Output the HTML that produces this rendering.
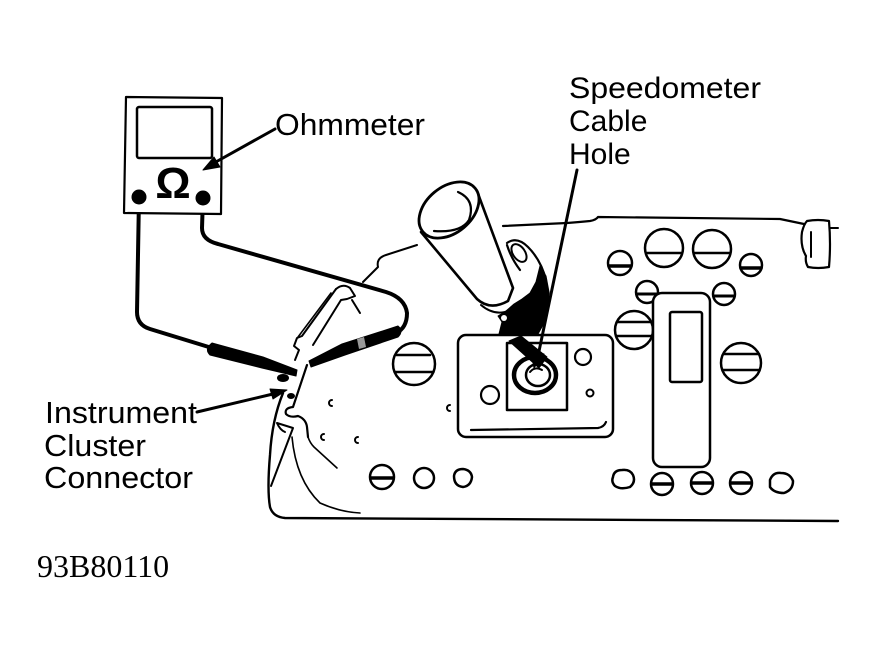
<!DOCTYPE html>
<html><head><meta charset="utf-8"><style>
html,body{margin:0;padding:0;background:#fff;}
svg{display:block;}
text{font-family:"Liberation Sans",Arial,sans-serif;fill:#000;}
</style></head><body>
<svg width="877" height="651" viewBox="0 0 877 651" xmlns="http://www.w3.org/2000/svg">
<rect width="877" height="651" fill="#fff"/>
<g fill="none" stroke="#000" stroke-linecap="round" stroke-linejoin="round">
<!-- panel outline -->
<path d="M363,282 L378,267 Q376,258 386,255 L417,245" stroke-width="2"/>
<path d="M503,226 L567,223 Q580,222 590,221 Q596,220 598,217 L780,219 L804,224" stroke-width="2.2"/>
<path d="M830,228 L838,228" stroke-width="2"/>
<path d="M807,221 Q818,219 829,221 Q831,244 829,267 Q818,269 808,267 Q805,262 806,256 Q800,246 802,232 Q804,224 807,221 Z" stroke-width="2.2" fill="#fff"/>
<path d="M811,232 L811,257" stroke-width="2"/>
<path d="M283,393 Q272,420 270,455 Q267,490 270,507 Q273,517 285,518 L838,521" stroke-width="2.4"/>
<path d="M292,437 Q296,480 320,503 Q340,512 360,513" stroke-width="1.6"/>
<path d="M277,423 L293,428 L271,486 M277,423 Q280,430 285,432" stroke-width="2"/>
<path d="M308,437 Q310,443 314,447 L337,468" stroke-width="1.6"/>
<!-- small c marks -->
<path d="M332,400 A3,3 0 1 0 332,406" stroke-width="2"/>
<path d="M324,434 A3,3 0 1 0 324,440" stroke-width="2"/>
<path d="M358,437 A3,3 0 1 0 358,443" stroke-width="2"/>
<path d="M450,405 A3,3 0 1 0 450,411" stroke-width="2"/>
<!-- knobs -->
<g stroke-width="2.5" fill="#fff">
<circle cx="664" cy="248" r="19"/><path d="M646,253 L682,253"/>
<circle cx="712" cy="249" r="19"/><path d="M694,253 L730,253"/>
<circle cx="620" cy="263" r="12"/><path d="M609,266 L631,266" stroke-width="3.5"/>
<circle cx="751" cy="265" r="11"/><path d="M741,268 L761,268" stroke-width="3.5"/>
<circle cx="647" cy="292" r="11"/><path d="M637,294 L657,294" stroke-width="3"/>
<circle cx="724" cy="294" r="11"/><path d="M714,296 L734,296" stroke-width="3"/>
<circle cx="634" cy="330" r="19"/><path d="M617,322 L651,322 M616,336 L652,336"/>
<circle cx="741" cy="363" r="20"/><path d="M724,354 L759,354 M723,370 L759,370"/>
<circle cx="414" cy="364" r="21"/><path d="M396,355 L430,355 M395,372 L433,372"/>
<circle cx="382" cy="477" r="12"/><path d="M371,478 L393,478" stroke-width="3.5"/>
<circle cx="424" cy="478" r="10"/>
<path d="M454,476 Q455,469 463,469 Q471,470 472,477 Q471,486 463,487 Q454,486 454,476 Z"/>
<path d="M613,477 Q614,470 622,470 Q630,469 633,475 Q636,482 630,487 Q621,490 615,486 Q611,482 613,477 Z"/>
<circle cx="662" cy="484" r="11"/><path d="M652,484 L672,484" stroke-width="3.5"/>
<circle cx="702" cy="483" r="11"/><path d="M692,483 L712,483" stroke-width="3.5"/>
<circle cx="741" cy="483" r="11"/><path d="M731,483 L751,483" stroke-width="3.5"/>
<path d="M770,480 Q773,472 781,473 Q790,473 793,481 Q793,490 784,493 Q774,493 770,487 Z"/>
</g>
<!-- tall rect -->
<rect x="653" y="293" width="57" height="174" rx="9" stroke-width="2.5" fill="#fff"/>
<rect x="670" y="312" width="32" height="70" rx="2" stroke-width="2.5"/>
<!-- plate -->
<rect x="458" y="335" width="155" height="102" rx="8" stroke-width="2.5" fill="#fff"/>
<path d="M471,430 L598,428 Q604,427 606,422" stroke-width="2.2"/>
<rect x="507" y="343" width="60" height="67" stroke-width="2.5" fill="#fff"/>
<circle cx="490" cy="395" r="9" stroke-width="2.2"/>
<circle cx="583" cy="357" r="8" stroke-width="2.2"/>
<circle cx="590" cy="393" r="3.5" stroke-width="2"/>
<!-- hole -->
<ellipse cx="535" cy="375" rx="21" ry="18" stroke-width="4.5"/>
<ellipse cx="538" cy="375" rx="12" ry="11" stroke-width="2.5"/>
<path d="M530,372 Q535,366 542,370" stroke-width="2"/>
<!-- screwdriver -->
<path d="M507,243 Q517,236 528,247 Q541,260 546,280 M507,245 Q511,258 520,270" stroke-width="2.2"/>
<ellipse cx="519" cy="253" rx="6" ry="10" transform="rotate(-35 519 253)" stroke-width="2"/>
<path d="M421,232 L477,299 Q490,311 508,301 L513,288 L477,191 Z" stroke-width="2.6" fill="#fff"/>
<ellipse cx="449" cy="210" rx="34" ry="23" transform="rotate(-40 449 210)" stroke-width="2.8" fill="#fff"/>
<path d="M458,192 Q476,200 469,220 Q461,233 434,231" stroke-width="2.2"/>
<path d="M481,305 Q495,317 511,310" stroke-width="2"/>
<path d="M499,334 L502,322 L498,316 L506,311 L514,304 L522,299 L530,293 L536,282 L540,266 L546,276 L549,292 L548,310 L543,325 L538,334 Z" fill="#000" stroke="#000" stroke-width="1"/>
<circle cx="504" cy="318" r="3" fill="#fff" stroke="none"/>
<path d="M509,341 L521,336 L547,357 L539,368 Z" fill="#000" stroke="#000" stroke-width="1"/>
<!-- cable arrow -->
<path d="M577,170 L538,356" stroke-width="3"/>
<path d="M534,368 L531,351 L544,354 Z" fill="#000" stroke-width="1"/>
<!-- connector -->
<path d="M336,289 L302,336 L297,338 L294,346 L299,350 L295,360" stroke-width="2"/>
<path d="M336,289 Q343,283 350,288 L355,296 L347,299 L341,300 L313,345" stroke-width="2"/>
<path d="M352,300 L360,313" stroke-width="2"/>
<path d="M331,293 L298,337" stroke-width="1.6"/>
<path d="M307,365 L293,407 Q284,408 286,414 Q290,418 298,416 Q306,419 307,427 L308,437" stroke-width="2.2"/>
<ellipse cx="283" cy="378" rx="6" ry="4" fill="#000" stroke="none"/>
<ellipse cx="291" cy="396" rx="4" ry="3" fill="#000" stroke="none"/>
<!-- wires -->
<path d="M139,197 L137,312 Q137,325 150,329 L212,348" stroke-width="4"/>
<path d="M203,197 L202,228 Q202,240 218,244 L386,292 Q405,298 407,313 Q407,328 396,333" stroke-width="4"/>
<!-- probes -->
<path d="M212,343 L263,357 L297,370 L296,376 L262,368 L210,355 Q204,349 212,343 Z" fill="#000" stroke-width="1"/>
<path d="M398,326 L342,344 L309,361 L311,367 L345,355 L398,337 Q404,331 398,326 Z" fill="#000" stroke-width="1"/>
<path d="M357,339 L364,337 L366,347 L359,349 Z" fill="#9a9a9a" stroke="none"/>
<!-- ohmmeter -->
<path d="M126,97 L222,98 L221,214 L124,213 Z" stroke-width="2.2" fill="#fff"/>
<rect x="137" y="107" width="75" height="51" rx="2" stroke-width="2.5"/>
<circle cx="139" cy="197" r="7.5" fill="#000" stroke="none"/>
<circle cx="203" cy="198" r="7.5" fill="#000" stroke="none"/>
<!-- leader arrows -->
<path d="M275,129 L214,163" stroke-width="3"/>
<path d="M203,170 L214,157 L220,167 Z" fill="#000" stroke-width="1"/>
<path d="M197,412 L273,394" stroke-width="3"/>
<path d="M287,390 L270,389 L273,399 Z" fill="#000" stroke-width="1"/>
</g>
<text x="173" y="198" font-size="44" font-weight="bold" text-anchor="middle">Ω</text>
<text x="275" y="135" font-size="31" textLength="150" lengthAdjust="spacingAndGlyphs">Ohmmeter</text>
<text x="569" y="98" font-size="30" textLength="192" lengthAdjust="spacingAndGlyphs">Speedometer</text>
<text x="569" y="131" font-size="30">Cable</text>
<text x="569" y="164" font-size="30">Hole</text>
<text x="45" y="423" font-size="31" textLength="152" lengthAdjust="spacingAndGlyphs">Instrument</text>
<text x="44" y="456" font-size="31" textLength="102" lengthAdjust="spacingAndGlyphs">Cluster</text>
<text x="44" y="488" font-size="31" textLength="149" lengthAdjust="spacingAndGlyphs">Connector</text>
<text x="37" y="577" font-size="32" style="font-family:'Liberation Serif','Times New Roman',serif">93B80110</text>
</svg>
</body></html>
